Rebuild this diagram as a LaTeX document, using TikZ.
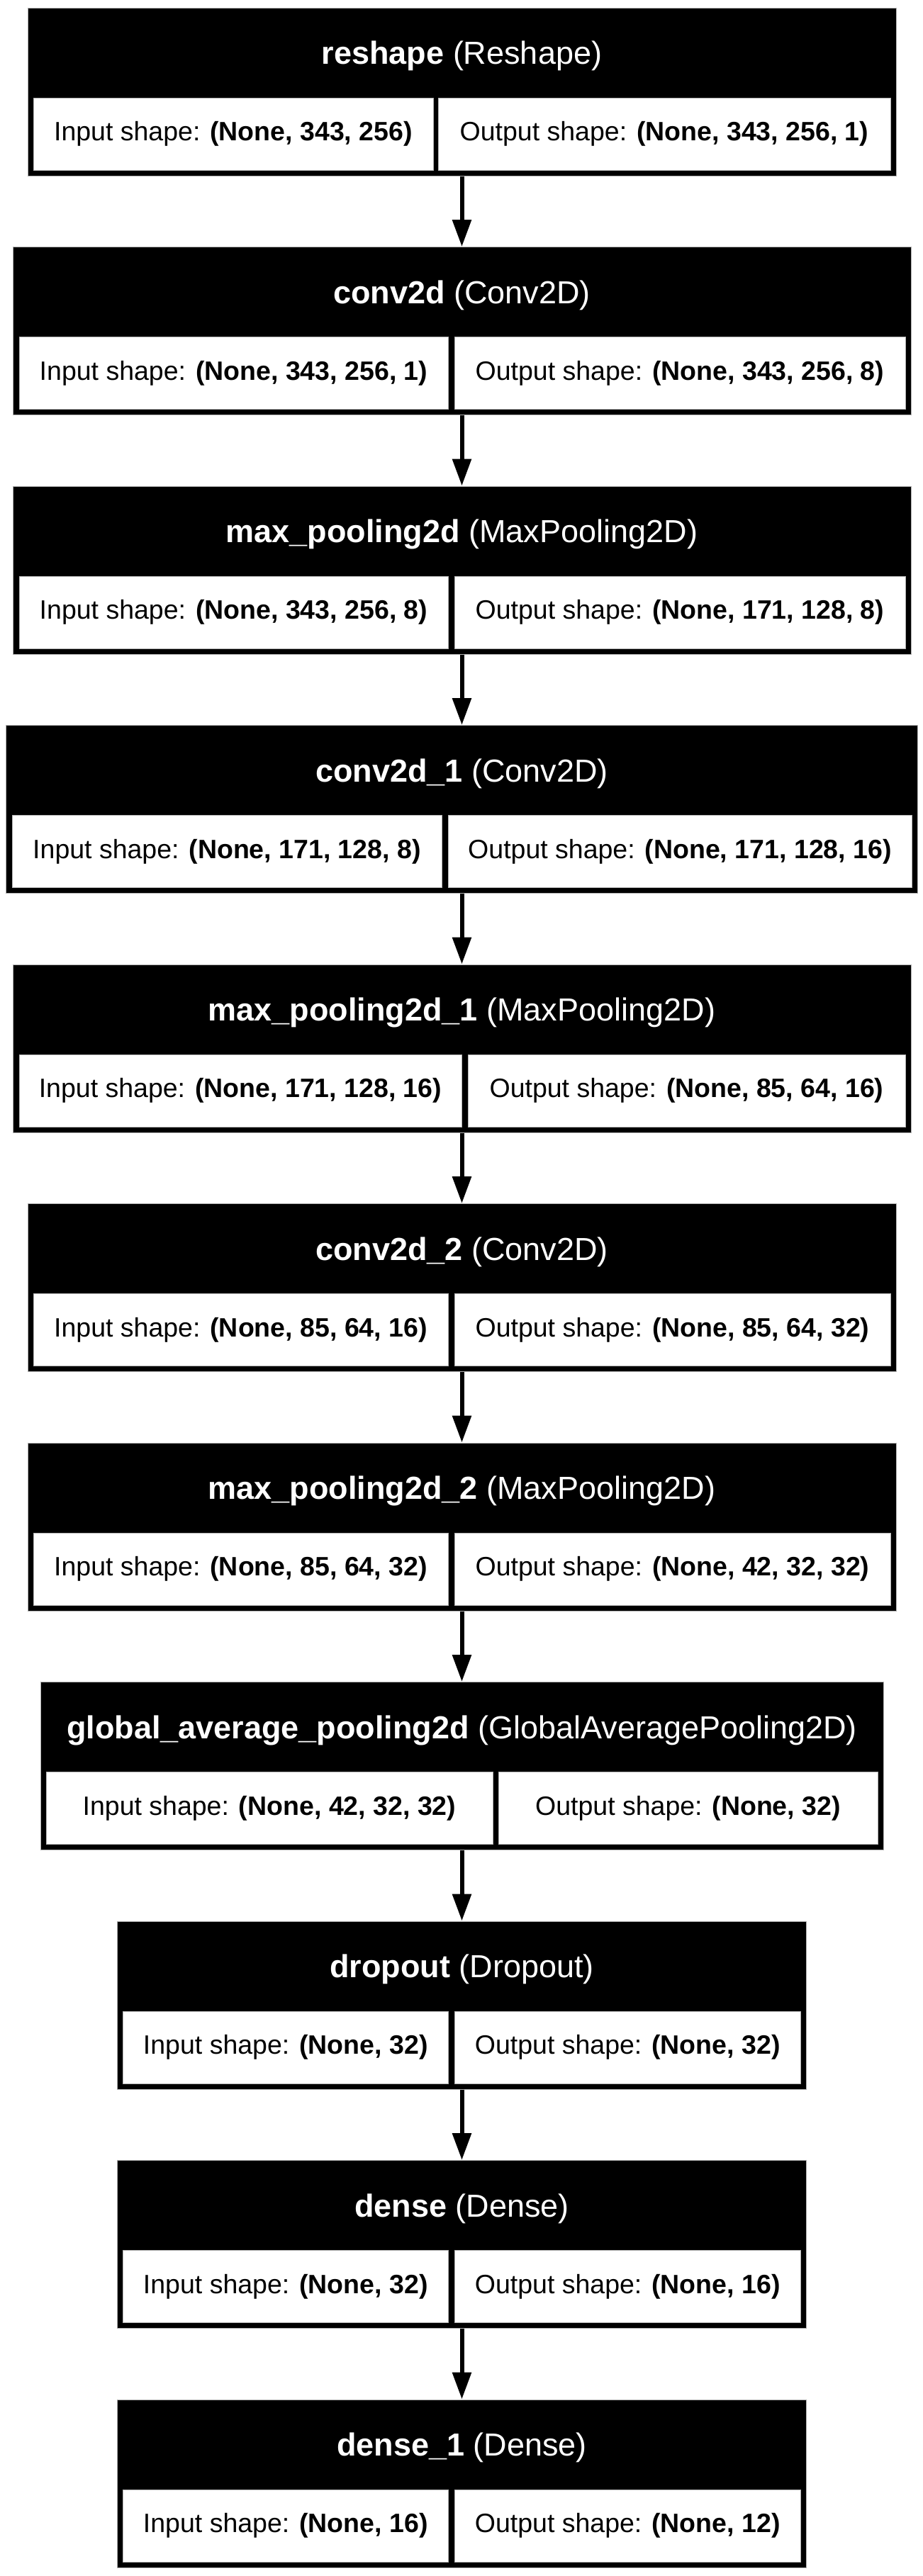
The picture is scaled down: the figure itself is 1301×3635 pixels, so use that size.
\documentclass[tikz,border=0pt]{standalone}
\usepackage{fontspec}
\setmainfont{Liberation Sans}
\usetikzlibrary{arrows.meta}

\begin{document}
\begin{tikzpicture}
  [x=1pt,y=-1pt,
   layerbox/.style={rectangle,fill=black,draw=gray!60,line width=1pt,minimum height=237pt,inner sep=0pt},
   layername/.style={text=white,inner sep=0pt,font=\fontsize{45}{54}\selectfont},
   shapecell/.style={rectangle,fill=white,draw=gray!60,line width=1pt,minimum height=102pt,inner sep=0pt,font=\fontsize{37.5}{45}\selectfont},
   flow/.style={line width=6pt,-{Triangle[length=38pt,width=26pt]}}]
  \fill[white] (0,0) rectangle (1301,3635);
  \useasboundingbox (0,0) rectangle (1301,3635);

  % reshape
  \node[layerbox,minimum width=1225pt] (reshape) at (651.5,129.5) {};
  \node[layername] (reshape-name) at (651.5,79) {\textbf{reshape} (Reshape)};
  \node[shapecell,minimum width=564pt] (reshape-in)  at (329,189) {Input shape: \textbf{(None, 343, 256)}};
  \node[shapecell,minimum width=638pt] (reshape-out) at (937,189) {Output shape: \textbf{(None, 343, 256, 1)}};

  % conv2d
  \node[layerbox,minimum width=1267pt] (conv) at (651.5,467) {};
  \node[layername] (conv-name) at (651.5,416.5) {\textbf{conv2d} (Conv2D)};
  \node[shapecell,minimum width=605pt] (conv-in)  at (329.5,526.5) {Input shape: \textbf{(None, 343, 256, 1)}};
  \node[shapecell,minimum width=636pt] (conv-out) at (959,526.5) {Output shape: \textbf{(None, 343, 256, 8)}};

  % max_pooling2d
  \node[layerbox,minimum width=1267pt] (pool) at (651.5,804.5) {};
  \node[layername] (pool-name) at (651.5,754) {\textbf{max\_pooling2d} (MaxPooling2D)};
  \node[shapecell,minimum width=605pt] (pool-in)  at (329.5,864) {Input shape: \textbf{(None, 343, 256, 8)}};
  \node[shapecell,minimum width=636pt] (pool-out) at (959,864) {Output shape: \textbf{(None, 171, 128, 8)}};

  % conv2d_1
  \node[layerbox,minimum width=1286pt] (conv1) at (651.5,1142) {};
  \node[layername] (conv1-name) at (651.5,1091.5) {\textbf{conv2d\_1} (Conv2D)};
  \node[shapecell,minimum width=606pt] (conv1-in)  at (320,1201.5) {Input shape: \textbf{(None, 171, 128, 8)}};
  \node[shapecell,minimum width=654pt] (conv1-out) at (959,1201.5) {Output shape: \textbf{(None, 171, 128, 16)}};

  % max_pooling2d_1
  \node[layerbox,minimum width=1267pt] (pool1) at (651.5,1479.5) {};
  \node[layername] (pool1-name) at (651.5,1429) {\textbf{max\_pooling2d\_1} (MaxPooling2D)};
  \node[shapecell,minimum width=624pt] (pool1-in)  at (339,1539) {Input shape: \textbf{(None, 171, 128, 16)}};
  \node[shapecell,minimum width=617pt] (pool1-out) at (968.5,1539) {Output shape: \textbf{(None, 85, 64, 16)}};

  % conv2d_2
  \node[layerbox,minimum width=1225pt] (conv2) at (651.5,1817) {};
  \node[layername] (conv2-name) at (651.5,1766.5) {\textbf{conv2d\_2} (Conv2D)};
  \node[shapecell,minimum width=585pt] (conv2-in)  at (339.5,1876.5) {Input shape: \textbf{(None, 85, 64, 16)}};
  \node[shapecell,minimum width=615pt] (conv2-out) at (948.5,1876.5) {Output shape: \textbf{(None, 85, 64, 32)}};

  % max_pooling2d_2
  \node[layerbox,minimum width=1225pt] (pool2) at (651.5,2154.5) {};
  \node[layername] (pool2-name) at (651.5,2104) {\textbf{max\_pooling2d\_2} (MaxPooling2D)};
  \node[shapecell,minimum width=585pt] (pool2-in)  at (339.5,2214) {Input shape: \textbf{(None, 85, 64, 32)}};
  \node[shapecell,minimum width=615pt] (pool2-out) at (948.5,2214) {Output shape: \textbf{(None, 42, 32, 32)}};

  % global_average_pooling2d
  \node[layerbox,minimum width=1189pt] (gap) at (651.5,2492) {};
  \node[layername] (gap-name) at (651.5,2441.5) {\textbf{global\_average\_pooling2d} (GlobalAveragePooling2D)};
  \node[shapecell,minimum width=630pt] (gap-in)  at (380,2551.5) {Input shape: \textbf{(None, 42, 32, 32)}};
  \node[shapecell,minimum width=535pt] (gap-out) at (970.5,2551.5) {Output shape: \textbf{(None, 32)}};

  % dropout
  \node[layerbox,minimum width=972pt] (drop) at (651.5,2829.5) {};
  \node[layername] (drop-name) at (651.5,2779) {\textbf{dropout} (Dropout)};
  \node[shapecell,minimum width=458.5pt] (drop-in)  at (402.75,2889) {Input shape: \textbf{(None, 32)}};
  \node[shapecell,minimum width=488.5pt] (drop-out) at (885.25,2889) {Output shape: \textbf{(None, 32)}};

  % dense
  \node[layerbox,minimum width=972pt] (dense) at (651.5,3167) {};
  \node[layername] (dense-name) at (651.5,3116.5) {\textbf{dense} (Dense)};
  \node[shapecell,minimum width=458.5pt] (dense-in)  at (402.75,3226.5) {Input shape: \textbf{(None, 32)}};
  \node[shapecell,minimum width=488.5pt] (dense-out) at (885.25,3226.5) {Output shape: \textbf{(None, 16)}};

  % dense_1
  \node[layerbox,minimum width=972pt] (dense1) at (651.5,3504.5) {};
  \node[layername] (dense1-name) at (651.5,3454) {\textbf{dense\_1} (Dense)};
  \node[shapecell,minimum width=458.5pt] (dense1-in)  at (402.75,3564) {Input shape: \textbf{(None, 16)}};
  \node[shapecell,minimum width=488.5pt] (dense1-out) at (885.25,3564) {Output shape: \textbf{(None, 12)}};

  \foreach \from/\to in {reshape/conv,conv/pool,pool/conv1,conv1/pool1,pool1/conv2,
                         conv2/pool2,pool2/gap,gap/drop,drop/dense,dense/dense1}
    \draw[flow] (\from) -- (\to);

\end{tikzpicture}
\end{document}
